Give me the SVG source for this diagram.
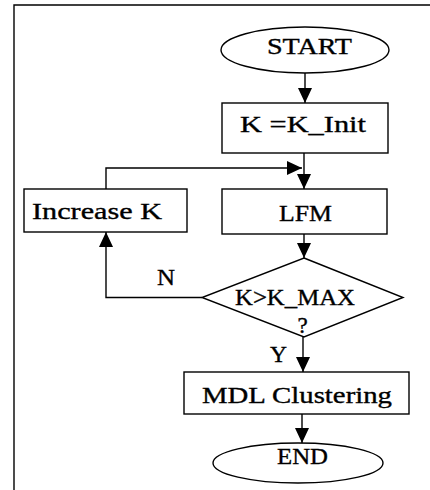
<svg xmlns="http://www.w3.org/2000/svg" width="430" height="490" viewBox="0 0 430 490">
<style>
.s{fill:#fff;stroke:#000;stroke-width:1.4}
.c{fill:none;stroke:#000;stroke-width:1.4}
.t{font-family:"Liberation Serif","Times New Roman",serif;font-size:23px;fill:#000;stroke:#000;stroke-width:0.35}
</style>
<defs>
<marker id="ah" viewBox="0 0 15 14" refX="15" refY="7" markerWidth="15" markerHeight="14" markerUnits="userSpaceOnUse" orient="auto">
<path d="M0,0 L15,7 L0,14 Z" fill="#000"/>
</marker>
</defs>
<rect width="430" height="490" fill="#fff"/>
<path class="c" d="M14,490 V5 H430" stroke-width="1.6"/>
<g id="start">
<ellipse class="s" cx="305" cy="50" rx="84" ry="23"/>
<text class="t" x="267" y="54" textLength="85" lengthAdjust="spacingAndGlyphs">START</text>
</g>
<g id="init">
<rect class="s" x="222" y="103" width="166" height="50"/>
<text class="t" x="240" y="132" textLength="126" lengthAdjust="spacingAndGlyphs">K =K_Init</text>
</g>
<g id="increase">
<rect class="s" x="24" y="189" width="163" height="43"/>
<text class="t" x="32" y="219" textLength="130" lengthAdjust="spacingAndGlyphs">Increase K</text>
</g>
<g id="lfm">
<rect class="s" x="222" y="189" width="165" height="45"/>
<text class="t" x="279" y="221" textLength="53" lengthAdjust="spacingAndGlyphs">LFM</text>
</g>
<g id="decision">
<polygon class="s" points="304,258 403,297.5 304,337 202,297.5"/>
<text class="t" x="235" y="305" textLength="120" lengthAdjust="spacingAndGlyphs">K&gt;K_MAX</text>
<text class="t" x="302.5" y="333" text-anchor="middle">?</text>
</g>
<g id="mdl">
<rect class="s" x="184" y="372" width="225" height="42"/>
<text class="t" x="202" y="403" textLength="190" lengthAdjust="spacingAndGlyphs">MDL Clustering</text>
</g>
<g id="end">
<ellipse class="s" cx="298" cy="463" rx="85" ry="20"/>
<text class="t" x="277" y="464" textLength="51" lengthAdjust="spacingAndGlyphs">END</text>
</g>
<g id="connectors">
<line class="c" x1="305" y1="73" x2="305" y2="103" marker-end="url(#ah)"/>
<line class="c" x1="304" y1="153" x2="304" y2="189" marker-end="url(#ah)"/>
<polyline class="c" points="106,189 106,168 302,168" marker-end="url(#ah)"/>
<line class="c" x1="304" y1="234" x2="304" y2="258" marker-end="url(#ah)"/>
<polyline class="c" points="202,297.5 106,297.5 106,232" marker-end="url(#ah)"/>
<line class="c" x1="303" y1="337" x2="303" y2="372" marker-end="url(#ah)"/>
<line class="c" x1="302" y1="414" x2="302" y2="443" marker-end="url(#ah)"/>
<text class="t" x="157" y="285" textLength="18" lengthAdjust="spacingAndGlyphs">N</text>
<text class="t" x="270" y="362" textLength="17" lengthAdjust="spacingAndGlyphs">Y</text>
</g>
</svg>
